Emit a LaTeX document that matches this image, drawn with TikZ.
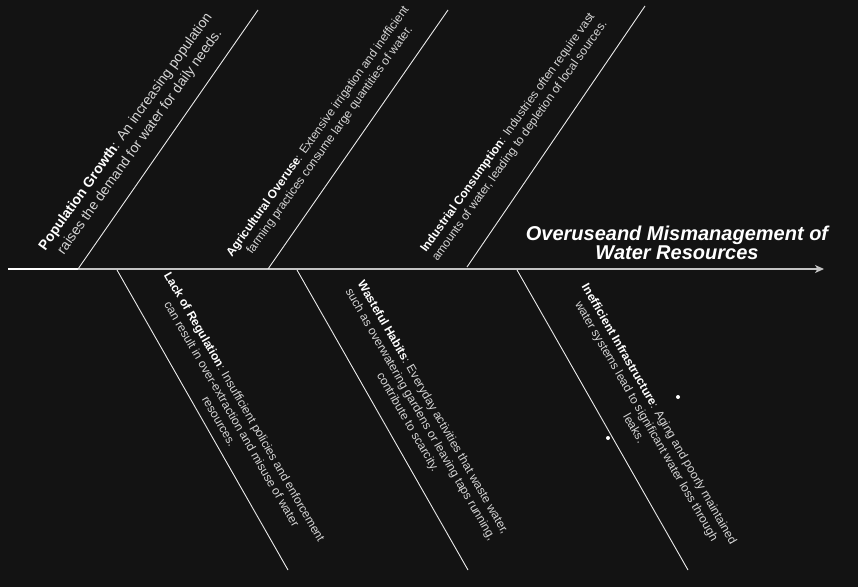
\documentclass[tikz,border=0pt]{standalone}
\usepackage{fontspec}
\setmainfont{Liberation Sans}
\usetikzlibrary{arrows.meta}
\definecolor{bg}{HTML}{131313}
\definecolor{txt}{HTML}{D6D6D6}
\definecolor{spinec}{HTML}{C4C4C4}
\tikzset{
  bone/.style={draw=white!92!black, line width=0.9pt},
  spineline/.style={draw=spinec, line width=1.3pt},
  lbl/.style={text=txt, align=center, inner sep=0pt, font=\fontsize{12}{14.6}\selectfont},
  biglbl/.style={text=txt, align=center, inner sep=0pt, font=\fontsize{14}{17.4}\selectfont},
  uplbl/.style={rotate=54.5},
  lowlbl/.style={rotate=-60},
  titlelbl/.style={text=white, align=center, inner sep=0pt, font=\fontsize{20}{16}\selectfont\bfseries\itshape},
  dotmark/.style={circle, fill=white, inner sep=0pt, minimum size=4pt}
}
\newcommand{\hd}[1]{\textbf{\color{white}#1}}
\begin{document}
\begin{tikzpicture}[x=1pt,y=-1pt]
\fill[bg] (0,0) rectangle (858,587);
\useasboundingbox (0,0) rectangle (858,587);

% spine
\coordinate (s0) at (8,269);
\coordinate (s1) at (78,269);
\coordinate (s2) at (824,269);
\draw[draw=white, line width=1.3pt] (s0) -- (s1);
\draw[spineline, -{Stealth[length=9pt,width=8pt,inset=2.5pt]}] (s1) -- (s2);

% upper bones
\coordinate (u1a) at (78,269);  \coordinate (u1b) at (258,10);
\coordinate (u2a) at (268,269); \coordinate (u2b) at (448,10);
\coordinate (u3a) at (467,267); \coordinate (u3b) at (645,6);
\draw[bone] (u1a) -- (u1b);
\draw[bone] (u2a) -- (u2b);
\draw[bone] (u3a) -- (u3b);

% lower bones
\coordinate (l1a) at (117,270); \coordinate (l1b) at (288,570);
\coordinate (l2a) at (297,270); \coordinate (l2b) at (468,570);
\coordinate (l3a) at (517,270); \coordinate (l3b) at (688,570);
\draw[bone] (l1a) -- (l1b);
\draw[bone] (l2a) -- (l2b);
\draw[bone] (l3a) -- (l3b);

% labels
\node[biglbl, uplbl] (pop) at (133,137) {\hd{Population Growth}: An increasing population\\raises the demand for water for daily needs.};
\node[lbl, uplbl] (agr) at (324,136) {\hd{Agricultural Overuse}: Extensive irrigation and inefficient\\farming practices consume large quantities of water.};
\node[lbl, uplbl] (ind) at (514,137) {\hd{Industrial Consumption}: Industries often require vast\\amounts of water, leading to depletion of local sources.};

\node[lbl, lowlbl] (reg) at (232,414) {\hd{Lack of Regulation}: Insufficient policies and enforcement\\can result in over-extraction and misuse of water\\resources.};
\node[lbl, lowlbl] (was) at (420,415) {\hd{Wasteful Habits}: Everyday activities that waste water,\\such as overwatering gardens or leaving taps running,\\contribute to scarcity.};
\node[lbl, lowlbl] (inf) at (647,421) {\hd{Inefficient Infrastructure}: Aging and poorly maintained\\water systems lead to significant water loss through\\leaks.};

\node[titlelbl] (title) at (677,243) {Overuseand Mismanagement of\\Water Resources};

\node[dotmark] (d1) at (678,397) {};
\node[dotmark] (d2) at (608,438) {};
\end{tikzpicture}
\end{document}
